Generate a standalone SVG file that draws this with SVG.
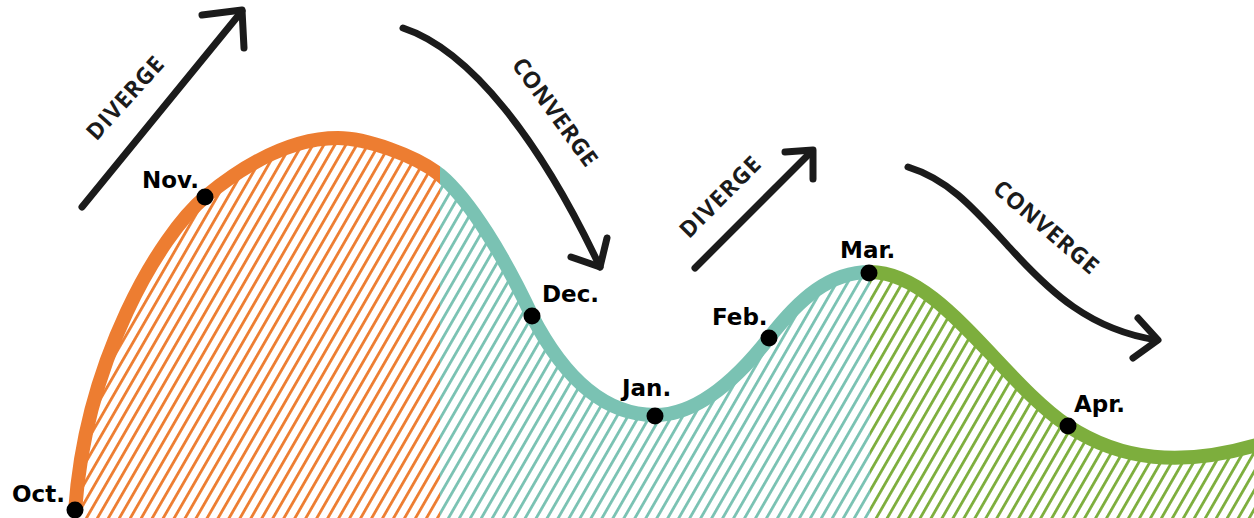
<svg xmlns="http://www.w3.org/2000/svg" width="1254" height="518" viewBox="0 0 1254 518">
<style>
.arrow{fill:none;stroke:#1b1b1b;stroke-width:7;stroke-linecap:round;stroke-linejoin:round}
.lbl{font-family:"DejaVu Sans",Verdana,sans-serif;font-weight:bold;font-size:23px;fill:#000}
.word{font-family:"Open Sans","DejaVu Sans",sans-serif;font-weight:700;font-size:23px;fill:#1b1b1b}
.dot{fill:#000}
.curve{fill:none;stroke-width:14}
</style>
<defs>
<path id="wave" d="M75,512 C85,360 160,235 205,197 C250,160 295,138 338,138 C365,138 415,155 440,175 C470,200 505,258 532,316 C560,370 600,415 655,415 C700,415 740,375 769,338 C800,298 830,272 870,272 C940,272 1000,380 1068,426 C1120,460 1180,468 1260,444"/>
<clipPath id="under"><path d="M75,512 C85,360 160,235 205,197 C250,160 295,138 338,138 C365,138 415,155 440,175 C470,200 505,258 532,316 C560,370 600,415 655,415 C700,415 740,375 769,338 C800,298 830,272 870,272 C940,272 1000,380 1068,426 C1120,460 1180,468 1260,444 L1260,520 L75,520 Z"/></clipPath>
<clipPath id="cO"><rect x="0" y="0" width="440" height="518"/></clipPath>
<clipPath id="cT"><rect x="440" y="0" width="430" height="518"/></clipPath>
<clipPath id="cG"><rect x="870" y="0" width="384" height="518"/></clipPath>
<pattern id="hO" patternUnits="userSpaceOnUse" width="9.5" height="20" patternTransform="rotate(30)"><rect x="0" y="0" width="2.8" height="20" fill="#ED7D31"/></pattern>
<pattern id="hT" patternUnits="userSpaceOnUse" width="9.5" height="20" patternTransform="rotate(30)"><rect x="0" y="0" width="2.8" height="20" fill="#7AC2B3"/></pattern>
<pattern id="hG" patternUnits="userSpaceOnUse" width="9.5" height="20" patternTransform="rotate(30)"><rect x="0" y="0" width="2.8" height="20" fill="#7DAE3D"/></pattern>
</defs>
<rect width="1254" height="518" fill="#fff"/>
<g id="areas" clip-path="url(#under)">
<rect x="0" y="0" width="440" height="518" fill="url(#hO)"/>
<rect x="440" y="0" width="430" height="518" fill="url(#hT)"/>
<rect x="870" y="0" width="384" height="518" fill="url(#hG)"/>
</g>
<g id="curve">
<use href="#wave" class="curve" stroke="#ED7D31" clip-path="url(#cO)"/>
<use href="#wave" class="curve" stroke="#7AC2B3" clip-path="url(#cT)"/>
<use href="#wave" class="curve" stroke="#7DAE3D" clip-path="url(#cG)"/>
</g>
<g id="connectors">
<g id="arrow-diverge-1">
<path class="arrow" d="M82,207 L242,11"/>
<path class="arrow" d="M202,15 L242,10 L244,48"/>
<text class="word" text-anchor="middle" transform="translate(125,98) rotate(-48)" y="8" textLength="103" lengthAdjust="spacing">DIVERGE</text>
</g>
<g id="arrow-converge-1">
<path class="arrow" d="M403,28 C470,50 540,140 600,267"/>
<path class="arrow" d="M571,257 L600,267 L607,238"/>
<text class="word" text-anchor="middle" transform="translate(555,112) rotate(54)" y="8" textLength="128" lengthAdjust="spacing">CONVERGE</text>
</g>
<g id="arrow-diverge-2">
<path class="arrow" d="M695,268 L812,151"/>
<path class="arrow" d="M785,152 L813,150 L813,179"/>
<text class="word" text-anchor="middle" transform="translate(720,197) rotate(-45)" y="8" textLength="104" lengthAdjust="spacing">DIVERGE</text>
</g>
<g id="arrow-converge-2">
<path class="arrow" d="M908,167 C950,180 975,210 1010,248 C1050,292 1090,330 1157,340"/>
<path class="arrow" d="M1138,318 L1158,340 L1133,358"/>
<text class="word" text-anchor="middle" transform="translate(1046,227) rotate(40.5)" y="8" textLength="130" lengthAdjust="spacing">CONVERGE</text>
</g>
</g>
<g id="oct"><circle class="dot" cx="75" cy="510" r="8.5"/><text class="lbl" x="12" y="502">Oct.</text></g>
<g id="nov"><circle class="dot" cx="205" cy="197" r="8.5"/><text class="lbl" x="142" y="188">Nov.</text></g>
<g id="dec"><circle class="dot" cx="532" cy="316" r="8.5"/><text class="lbl" x="542" y="302">Dec.</text></g>
<g id="jan"><circle class="dot" cx="655" cy="416" r="8.5"/><text class="lbl" x="622" y="396">Jan.</text></g>
<g id="feb"><circle class="dot" cx="769" cy="338" r="8.5"/><text class="lbl" x="712" y="325">Feb.</text></g>
<g id="mar"><circle class="dot" cx="869" cy="273" r="8.5"/><text class="lbl" x="840" y="258">Mar.</text></g>
<g id="apr"><circle class="dot" cx="1068" cy="426" r="8.5"/><text class="lbl" x="1074" y="412">Apr.</text></g>
</svg>
